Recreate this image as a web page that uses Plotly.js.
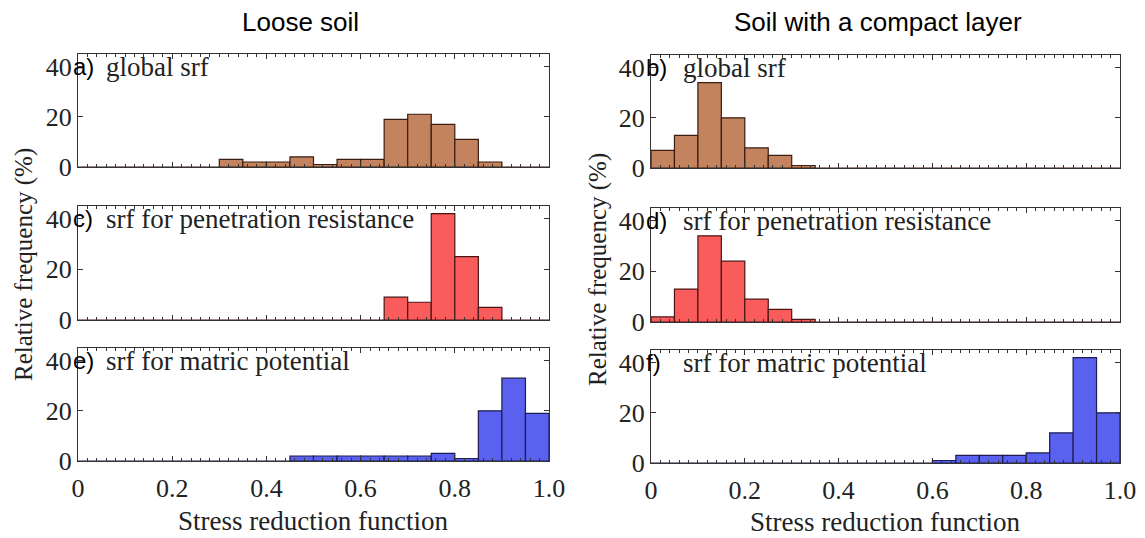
<!DOCTYPE html>
<html>
<head>
<meta charset="utf-8">
<script src="https://cdn.plot.ly/plotly-3.0.1.min.js"></script>
<style>html,body{margin:0;padding:0;background:#fff;}#chart{width:1145px;height:538px;}</style>
</head>
<body>
<div id="chart"></div>
<script>
// Bin left edges (width 0.05)
const binStarts = [0.00,0.05,0.10,0.15,0.20,0.25,0.30,0.35,0.40,0.45,0.50,0.55,0.60,0.65,0.70,0.75,0.80,0.85,0.90,0.95];
const binWidth = 0.05;

// Relative frequency (%) per bin
const looseGlobal      = [0,0,0,0,0,0,3,2,2,4,1,3,3,19,21,17,11,2,0,0];
const compactGlobal    = [7,13,34,20,8,5,1,0,0,0,0,0,0,0,0,0,0,0,0,0];
const loosePenetration = [0,0,0,0,0,0,0,0,0,0,0,0,0,9,7,42,25,5,0,0];
const compactPenetration = [2,13,34,24,9,5,1,0,0,0,0,0,0,0,0,0,0,0,0,0];
const looseMatric      = [0,0,0,0,0,0,0,0,0,2,2,2,2,2,2,3,1,20,33,19];
const compactMatric    = [0,0,0,0,0,0,0,0,0,0,0,0,1,3,3,3,4,12,42,20];

const xTickVals = [0,0.2,0.4,0.6,0.8,1.0];
const xTickText = ['0','0.2','0.4','0.6','0.8','1.0'];
const yTickVals = [0,20,40];

const panelLetters = ['a)','b)','c)','d)','e)','f)'];
const panelTexts = ['global srf','global srf','srf for penetration resistance','srf for penetration resistance','srf for matric potential','srf for matric potential'];
const columnTitles = ['Loose soil','Soil with a compact layer'];
const xTitle = 'Stress reduction function';
const yTitle = 'Relative frequency (%)';

const brown = '#c3835f', red = '#fa5c5c', blue = '#5961ee';
const series = [
  {y: looseGlobal, color: brown, line: '#3a1c10'},
  {y: compactGlobal, color: brown, line: '#3a1c10'},
  {y: loosePenetration, color: red, line: '#4a1414'},
  {y: compactPenetration, color: red, line: '#4a1414'},
  {y: looseMatric, color: blue, line: '#1c1c50'},
  {y: compactMatric, color: blue, line: '#1c1c50'}
];

const W = 1145, H = 538;
const colX = [[78,549],[651,1120]];
const rowY = [ // [top,bottom] px, per panel (a..f order)
  [54,167],[55,168],
  [206,320],[208,322],
  [348,461],[350,463]
];

const serif = '"Liberation Serif", "Times New Roman", Times, serif';
const sans = '"Liberation Sans", Arial, sans-serif';

const traces = [];
const layout = {
  width: W, height: H,
  margin: {l:0,r:0,t:0,b:0},
  paper_bgcolor: '#fff', plot_bgcolor: '#fff',
  showlegend: false,
  annotations: [],
  bargap: 0,
  font: {family: serif}
};

series.forEach((s, i) => {
  const n = i + 1;
  const col = i % 2, row = Math.floor(i / 2);
  const xa = n === 1 ? 'xaxis' : 'xaxis' + n;
  const ya = n === 1 ? 'yaxis' : 'yaxis' + n;
  traces.push({
    type: 'bar',
    x: binStarts, y: s.y,
    width: binWidth, offset: 0,
    xaxis: 'x' + (n === 1 ? '' : n), yaxis: 'y' + (n === 1 ? '' : n),
    marker: {color: s.color, line: {color: s.line, width: 1.2}},
    hoverinfo: 'x+y'
  });
  const [x0, x1] = colX[col];
  const [t, b] = rowY[i];
  layout[xa] = {
    domain: [x0 / W, x1 / W],
    anchor: 'y' + (n === 1 ? '' : n),
    range: [0, 1],
    tickvals: xTickVals, ticktext: xTickText,
    showticklabels: row === 2,
    ticks: 'inside', ticklen: 5, tickwidth: 1, tickcolor: '#333',
    minor: {dtick: 0.02, ticks: 'inside', ticklen: 3, tickcolor: '#333', showgrid: false},
    showline: true, linecolor: '#333', linewidth: 1, mirror: 'ticks',
    showgrid: false, zeroline: false,
    ticklabelstandoff: 4,
    tickfont: {family: serif, size: 26, color: '#222'}
  };
  layout[ya] = {
    domain: [1 - b / H, 1 - t / H],
    anchor: 'x' + (n === 1 ? '' : n),
    range: [0, 45],
    tickvals: yTickVals,
    ticks: 'inside', ticklen: 5, tickwidth: 1, tickcolor: '#333',
    showline: true, linecolor: '#333', linewidth: 1, mirror: 'ticks',
    showgrid: false, zeroline: false,
    tickfont: {family: serif, size: 26, color: '#222'},
    ticklabelstandoff: 0
  };
  // panel letter
  const y40 = t + (b - t) * (5 / 45);
  layout.annotations.push({
    xref: 'paper', yref: 'paper', x: (x0 - 7) / W, y: 1 - y40 / H,
    xanchor: 'left', yanchor: 'middle', showarrow: false,
    text: panelLetters[i], font: {family: sans, size: 24, color: '#000'}
  });
  layout.annotations.push({
    xref: 'paper', yref: 'paper', x: (x0 + (col === 0 ? 26 : 30)) / W, y: 1 - y40 / H,
    xanchor: 'left', yanchor: 'middle', showarrow: false,
    text: panelTexts[i], font: {family: serif, size: 27, color: '#222'}
  });
});

// column titles
layout.annotations.push({xref:'paper',yref:'paper',x:300/W,y:1-22/H,xanchor:'center',yanchor:'middle',showarrow:false,text:columnTitles[0],font:{family:sans,size:26,color:'#000'}});
layout.annotations.push({xref:'paper',yref:'paper',x:878/W,y:1-22/H,xanchor:'center',yanchor:'middle',showarrow:false,text:columnTitles[1],font:{family:sans,size:26,color:'#000'}});
// x titles
layout.annotations.push({xref:'paper',yref:'paper',x:313/W,y:1-521/H,xanchor:'center',yanchor:'middle',showarrow:false,text:xTitle,font:{family:serif,size:27,color:'#222'}});
layout.annotations.push({xref:'paper',yref:'paper',x:885/W,y:1-522/H,xanchor:'center',yanchor:'middle',showarrow:false,text:xTitle,font:{family:serif,size:27,color:'#222'}});
// y titles
layout.annotations.push({xref:'paper',yref:'paper',x:24/W,y:1-265/H,xanchor:'center',yanchor:'middle',textangle:-90,showarrow:false,text:yTitle,font:{family:serif,size:25,color:'#222'}});
layout.annotations.push({xref:'paper',yref:'paper',x:598/W,y:1-270/H,xanchor:'center',yanchor:'middle',textangle:-90,showarrow:false,text:yTitle,font:{family:serif,size:25,color:'#222'}});

Plotly.newPlot('chart', traces, layout, {staticPlot: true, displayModeBar: false});
</script>
</body>
</html>
